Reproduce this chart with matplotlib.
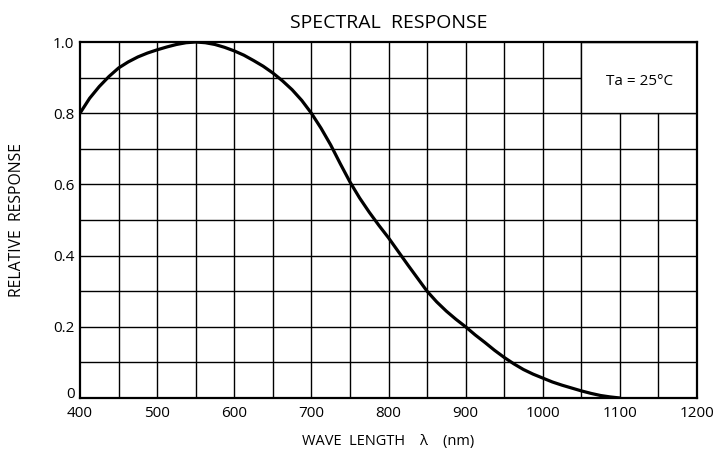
import matplotlib
matplotlib.use("Agg")
import matplotlib.pyplot as plt
from matplotlib.patches import Rectangle
from matplotlib.transforms import ScaledTranslation
import numpy as np

plt.rcParams['font.family'] = ['Open Sans', 'DejaVu Sans']

wavelength = [400, 412.5, 425, 437.5, 450, 462.5, 475, 487.5, 500, 512.5, 525,
              537.5, 550, 562.5, 575, 587.5, 600, 612.5, 625, 637.5, 650, 662.5,
              675, 687.5, 700, 712.5, 725, 737.5, 750, 762.5, 775, 787.5, 800,
              812.5, 825, 837.5, 850, 862.5, 875, 887.5, 900, 912.5, 925, 937.5,
              950, 962.5, 975, 987.5, 1000, 1012.5, 1025, 1037.5, 1050, 1062.5,
              1075, 1087.5, 1100]
response = [0.800, 0.842, 0.875, 0.903, 0.927, 0.944, 0.958, 0.969, 0.978, 0.986,
            0.993, 0.998, 1.000, 0.998, 0.993, 0.985, 0.975, 0.963, 0.948, 0.932,
            0.913, 0.891, 0.866, 0.836, 0.800, 0.758, 0.711, 0.658, 0.607, 0.562,
            0.522, 0.485, 0.450, 0.412, 0.374, 0.337, 0.300, 0.270, 0.244, 0.221,
            0.200, 0.177, 0.156, 0.134, 0.114, 0.096, 0.080, 0.067, 0.056, 0.045,
            0.036, 0.028, 0.020, 0.013, 0.007, 0.003, 0.000]
x_ticks = [400, 500, 600, 700, 800, 900, 1000, 1100, 1200]
y_ticks = [0, 0.2, 0.4, 0.6, 0.8, 1.0]
y_tick_labels = ["0", "0.2", "0.4", "0.6", "0.8", "1.0"]

fig = plt.figure(figsize=(7.15, 4.55), dpi=100)
ax = fig.add_axes([80/715, 57/455, 617/715, 356/455])

ax.set_xlim(400, 1200)
ax.set_ylim(0, 1.0)

# grid every 50 nm and 0.1
for xv in np.arange(450, 1200, 50):
    ax.axvline(xv, color='black', lw=1.0, zorder=1)
for yv in np.arange(0.1, 1.0, 0.1):
    ax.axhline(yv, color='black', lw=1.0, zorder=1)

# condition box
ax.add_patch(Rectangle((1050, 0.8), 150, 0.2, facecolor='white',
                       edgecolor='black', lw=1.0, zorder=2))
ax.text(1125, 0.888, "Ta = 25°C", ha='center', va='center', fontsize=11, zorder=3)

ax.plot(wavelength, response, color='black', lw=2.3, zorder=4,
        solid_capstyle='round', solid_joinstyle='round')

for s in ax.spines.values():
    s.set_linewidth(1.6)
    s.set_zorder(5)

ax.set_xticks(x_ticks)
ax.set_xticklabels([str(v) for v in x_ticks], fontsize=11)
ax.set_yticks(y_ticks)
ax.set_yticklabels(y_tick_labels, fontsize=11)
ax.tick_params(axis='x', length=0, pad=6)
ax.tick_params(axis='y', length=0, pad=4)

# lift the "0" label a little so it sits just above "400"
zero_lbl = ax.get_yticklabels()[0]
zero_lbl.set_transform(zero_lbl.get_transform() +
                       ScaledTranslation(0, 4 / 72, fig.dpi_scale_trans))

ax.set_title("SPECTRAL  RESPONSE", fontsize=14, pad=10)
ax.set_xlabel("WAVE  LENGTH    λ    (nm)", fontsize=10.5, labelpad=9)
ax.set_ylabel("RELATIVE  RESPONSE", fontsize=11.3, labelpad=20)

fig.savefig("out.png", dpi=100)
